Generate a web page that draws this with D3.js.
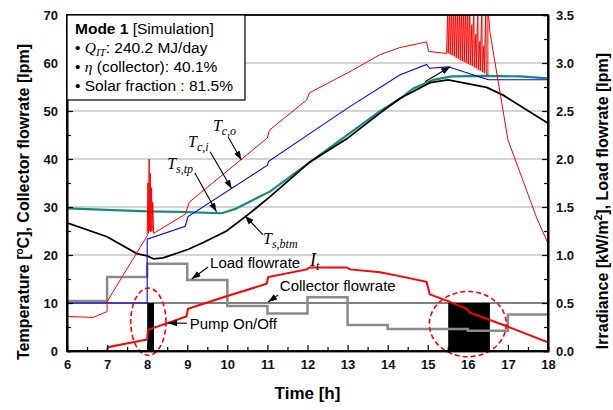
<!DOCTYPE html>
<html>
<head>
<meta charset="utf-8">
<script src="https://cdn.jsdelivr.net/npm/d3@7"></script>
<style>
  body { margin: 0; background: #fff; }
  svg { font-family: "Liberation Sans", Arial, sans-serif; }
  .tick text { font-weight: bold; font-size: 13px; }
  .serif { font-family: "Liberation Serif", "Times New Roman", serif; font-style: italic; }
</style>
</head>
<body>
<script>
//tick values
var hourTicks = [6, 7, 8, 9, 10, 11, 12, 13, 14, 15, 16, 17, 18],
    tempTicks = [0, 10, 20, 30, 40, 50, 60, 70],
    rightTicks = [0, 0.5, 1.0, 1.5, 2.0, 2.5, 3.0, 3.5],
    gridTemps = [20, 30, 40, 50, 60];

//collector outlet temperature T_c,o [hour, degC]
var tcoData = [[6.0,7.2],[6.65,7.0],[7.0,8.2],[7.0,10.3],[8.0,24.0],
  [8.02,35],[8.03,24.5],[8.05,40],[8.06,25],[8.08,37],[8.09,24.8],[8.11,34],[8.12,25],[8.14,31],[8.16,24.5],
  [8.95,28.5],[9.05,31.0],[11.0,44.4],[11.05,46.0],[11.98,52.3],[12.05,53.8],[13.06,58.2],[13.8,61.7],
  [14.3,63.2],[14.97,64.4],[15.02,62.4],[15.47,62.0],
  [15.50,72],[15.51,62.0],[15.55,72],[15.56,61.8],[15.60,72],[15.61,61.6],[15.65,72],[15.66,61.4],
  [15.70,72],[15.71,61.1],[15.75,72],[15.76,60.9],[15.80,72],[15.81,60.6],[15.85,72],[15.86,60.4],
  [15.90,72],[15.91,60.2],[15.95,72],[15.96,60.0],[16.00,72],[16.01,59.8],[16.05,72],[16.06,59.6],
  [16.10,68],[16.11,59.4],[16.15,72],[16.16,59.1],[16.20,66],[16.21,58.9],[16.25,72],[16.26,58.6],
  [16.30,64.5],[16.31,58.4],[16.35,72],[16.36,58.1],[16.40,63.5],[16.41,57.9],[16.45,72],[16.46,57.6],
  [16.5,57.5],[16.5,72],[16.55,66.5],[17.0,44.0],[17.72,27.7],[18.0,22.4]];

//collector inlet temperature T_c,i
var tciData = [[6,10],[8.0,10],[8.0,23.3],[8.95,26.0],[9.02,28.0],[11.0,38.7],[11.03,39.5],
  [12.98,50.5],[14.3,57.5],[14.97,59.7],[15.05,58.9],[15.51,59.2],[16.51,56.5],[18,56.5]];

//storage top temperature T_s,tp
var tstpData = [[6,29.7],[8,29.1],[8.82,29.0],[9.86,28.7],[10.2,29.6],[10.48,30.8],[11.06,33.2],
  [12.14,39.8],[13.39,47.4],[13.8,49.9],[14.3,52.5],[14.64,54.7],[15.14,56.5],[15.6,57.2],
  [16.5,57.3],[17.3,57.2],[18,56.8]];

//storage bottom temperature T_s,btm
var tsbtmData = [[6,26.7],[7.0,23.8],[7.74,20.3],[8.0,19.8],[8.16,19.2],[8.4,19.4],[9.03,21.2],
  [9.4,22.6],[9.98,25.0],[10.5,28.3],[11.06,32.1],[12.06,39.4],[12.98,44.2],[13.8,49.5],
  [14.3,52.6],[15.06,55.9],[15.51,56.5],[16.47,54.9],[16.88,53.3],[17.97,47.6],[18,47.5]];

//irradiance I_t [kW/m2]
var irradData = [[6,0],[7.0,0],[7.02,0.04],[8.0,0.12],[8.02,0.22],[8.98,0.36],[9.02,0.44],
  [9.98,0.57],[10.98,0.70],[11.02,0.77],[11.98,0.85],[12.05,0.87],[12.98,0.87],[13.06,0.85],
  [13.81,0.82],[14.3,0.78],[14.97,0.72],[15.05,0.59],[15.51,0.52],[15.97,0.44],[16.05,0.40],
  [16.96,0.26],[18,0.09]];

//load flowrate steps [lpm]
var loadHours = [6, 7, 8, 9, 10, 11, 12, 13, 14, 16, 17, 18],
    loadValues = [0.52, 0.77, 0.91, 0.74, 0.47, 0.39, 0.56, 0.27, 0.23, 0.21, 0.38, 0.38];

//collector flowrate [lpm] and pump on/off intervals
var collectorFlow = [[6,10],[18,10]],
    pumpOnOff = [[8.0, 8.17], [15.51, 16.55]],
    pumpLevel = 10;

//dashed circles around pump events [hour, degC, radius h, radius degC]
var pumpCircles = [[8.03, 6.1, 0.44, 7.0], [16.0, 5.6, 0.96, 6.8]];

//arrows [from hour, from degC, to hour, to degC]
var arrows = [[10.02,44.6,10.35,39.8],[9.57,41.5,10.11,33.8],[9.19,37.1,9.73,29.0],
  [10.89,24.2,10.44,28.2],[9.52,17.5,9.11,15.0],[11.27,11.7,11.02,10.2],
  [8.99,5.8,8.52,5.8],[14.93,56.1,15.56,59.2]];

//curve labels [hour, degC, main, subscript]
var curveLabels = [[9.64,45.8,"T","c,o"],[9.02,42.5,"T","c,i"],[8.5,37.9,"T","s,tp"],
  [10.89,22.3,"T","s,btm"],[12.06,17.7,"I","t"]];
var textLabels = [[9.57,17.3,"Load flowrate"],[11.31,12.5,"Collector flowrate"],[9.06,4.6,"Pump On/Off"]];

var width = 613, height = 410,
    padL = 67, padR = 548, padT = 15, padB = 351;

var svg = d3.select("body").append("svg")
    .attr("width", width)
    .attr("height", height);

var x = d3.scaleLinear().domain([6, 18]).range([padL, padR]);
var yL = d3.scaleLinear().domain([0, 70]).range([padB, padT]);
var yR = d3.scaleLinear().domain([0, 3.5]).range([padB, padT]);

var defs = svg.append("defs");
defs.append("clipPath").attr("id", "plot")
  .append("rect").attr("x", padL).attr("y", padT)
  .attr("width", padR - padL).attr("height", padB - padT);

defs.append("marker").attr("id", "arr")
    .attr("viewBox", "0 -4 9 8").attr("refX", 9).attr("refY", 0)
    .attr("markerUnits", "userSpaceOnUse")
    .attr("markerWidth", 9).attr("markerHeight", 8)
    .attr("orient", "auto")
  .append("path").attr("d", "M0,-3.2L9,0L0,3.2Z").attr("fill", "#000");

//grid lines
svg.selectAll(".grid").data(gridTemps).enter().append("line")
    .attr("x1", padL).attr("x2", padR)
    .attr("y1", function(d){ return yL(d); })
    .attr("y2", function(d){ return yL(d); })
    .attr("stroke", "#c4c4c4").attr("stroke-width", 1.5);

var plot = svg.append("g").attr("clip-path", "url(#plot)");

//pump on/off bars
plot.selectAll(".pump").data(pumpOnOff).enter().append("rect")
    .attr("x", function(d){ return x(d[0]); })
    .attr("width", function(d){ return x(d[1]) - x(d[0]); })
    .attr("y", yL(pumpLevel))
    .attr("height", yL(0) - yL(pumpLevel))
    .attr("fill", "#000");

var lineL = d3.line().x(function(d){ return x(d[0]); }).y(function(d){ return yL(d[1]); });
var lineR = d3.line().x(function(d){ return x(d[0]); }).y(function(d){ return yR(d[1]); });
var stepR = d3.line().x(function(d){ return x(d[0]); }).y(function(d){ return yR(d[1]); }).curve(d3.curveStepAfter);

//collector flowrate
plot.append("path").datum(collectorFlow).attr("d", lineL)
    .attr("fill", "none").attr("stroke", "#000").attr("stroke-width", 1.2);

//load flowrate
var loadPts = loadHours.map(function(h, i){ return [h, loadValues[i]]; });
plot.append("path").datum(loadPts).attr("d", stepR)
    .attr("fill", "none").attr("stroke", "#8a8a8a").attr("stroke-width", 2.5);

//irradiance
plot.append("path").datum(irradData).attr("d", lineR)
    .attr("fill", "none").attr("stroke", "#ff0000").attr("stroke-width", 2);

//storage top
plot.append("path").datum(tstpData).attr("d", lineL)
    .attr("fill", "none").attr("stroke", "#168a80").attr("stroke-width", 2.2);

//storage bottom
plot.append("path").datum(tsbtmData).attr("d", lineL)
    .attr("fill", "none").attr("stroke", "#000").attr("stroke-width", 1.8);

//collector inlet
plot.append("path").datum(tciData).attr("d", lineL)
    .attr("fill", "none").attr("stroke", "#0000ff").attr("stroke-width", 1.1);

//collector outlet
plot.append("path").datum(tcoData).attr("d", lineL)
    .attr("fill", "none").attr("stroke", "#ff0000").attr("stroke-width", 1);

//dashed circles
svg.selectAll(".circ").data(pumpCircles).enter().append("ellipse")
    .attr("cx", function(d){ return x(d[0]); })
    .attr("cy", function(d){ return yL(d[1]); })
    .attr("rx", function(d){ return x(d[0] + d[2]) - x(d[0]); })
    .attr("ry", function(d){ return yL(0) - yL(d[3]); })
    .attr("fill", "none").attr("stroke", "#ff0000")
    .attr("stroke-width", 1.6).attr("stroke-dasharray", "5,3");

//axes with inward ticks
function minorVals(a, b, step){ var v = []; for (var t = a; t <= b + 1e-9; t += step) v.push(+t.toFixed(3)); return v; }

svg.append("g").attr("transform", "translate(" + padL + ",0)")
    .call(d3.axisLeft(yL).tickValues(tempTicks).tickSizeInner(-6).tickSizeOuter(0).tickPadding(9).tickFormat(d3.format("d")));
svg.append("g").attr("transform", "translate(" + padL + ",0)")
    .call(d3.axisLeft(yL).tickValues(minorVals(5, 65, 10)).tickSize(-4).tickFormat(""));

svg.append("g").attr("transform", "translate(" + padR + ",0)")
    .call(d3.axisRight(yR).tickValues(rightTicks).tickSizeInner(-6).tickSizeOuter(0).tickPadding(8).tickFormat(d3.format(".1f")));
svg.append("g").attr("transform", "translate(" + padR + ",0)")
    .call(d3.axisRight(yR).tickValues(minorVals(0.25, 3.25, 0.5)).tickSize(-4).tickFormat(""));

svg.append("g").attr("transform", "translate(0," + padB + ")")
    .call(d3.axisBottom(x).tickValues(hourTicks).tickSizeInner(-6).tickSizeOuter(0).tickPadding(9).tickFormat(d3.format("d")));
svg.append("g").attr("transform", "translate(0," + padB + ")")
    .call(d3.axisBottom(x).tickValues(minorVals(6.5, 17.5, 1)).tickSize(-4).tickFormat(""));

svg.selectAll(".domain").attr("stroke-width", 1.6);
svg.selectAll(".tick line").attr("stroke-width", 1.2);
svg.selectAll(".tick text").attr("fill", "#111");

//frame
svg.append("rect").attr("x", padL).attr("y", padT)
    .attr("width", padR - padL).attr("height", padB - padT)
    .attr("fill", "none").attr("stroke", "#000").attr("stroke-width", 1.8);

//axis titles
svg.append("text").attr("x", x(12)).attr("y", 399)
    .attr("text-anchor", "middle").attr("font-weight", "bold").attr("font-size", 17)
    .text("Time [h]");

var lt = svg.append("text").attr("transform", "translate(29,202) rotate(-90)")
    .attr("text-anchor", "middle").attr("font-weight", "bold").attr("font-size", 16);
lt.append("tspan").text("Temperature [");
lt.append("tspan").attr("font-size", 10).attr("dy", -6).text("o");
lt.append("tspan").attr("dy", 6).text("C], Collector flowrate [lpm]");

var rt = svg.append("text").attr("transform", "translate(608,201) rotate(-90)")
    .attr("text-anchor", "middle").attr("font-weight", "bold").attr("font-size", 16);
rt.append("tspan").text("Irradiance [kW/m");
rt.append("tspan").attr("font-size", 10).attr("dy", -6).text("2");
rt.append("tspan").attr("dy", 6).text("], Load flowrate [lpm]");

//info box
svg.append("rect").attr("x", padL).attr("y", padT).attr("width", 178).attr("height", 85)
    .attr("fill", "#fff").attr("stroke", "#000").attr("stroke-width", 1.2);
var fs = 15.5;
var l1 = svg.append("text").attr("x", 75).attr("y", 34).attr("font-size", fs);
l1.append("tspan").attr("font-weight", "bold").text("Mode 1");
l1.append("tspan").text(" [Simulation]");
var l2 = svg.append("text").attr("x", 75).attr("y", 53).attr("font-size", fs);
l2.append("tspan").text("\u2022 ");
l2.append("tspan").attr("class", "serif").text("Q");
l2.append("tspan").attr("class", "serif").attr("font-size", 11).attr("dy", 3).text("IT");
l2.append("tspan").attr("dy", -3).text(": 240.2 MJ/day");
var l3 = svg.append("text").attr("x", 75).attr("y", 72).attr("font-size", fs);
l3.append("tspan").text("\u2022 ");
l3.append("tspan").attr("class", "serif").text("\u03b7");
l3.append("tspan").text(" (collector): 40.1%");
svg.append("text").attr("x", 75).attr("y", 91).attr("font-size", fs)
    .text("\u2022 Solar fraction : 81.5%");

//arrows
svg.selectAll(".arrow").data(arrows).enter().append("line")
    .attr("x1", function(d){ return x(d[0]); })
    .attr("y1", function(d){ return yL(d[1]); })
    .attr("x2", function(d){ return x(d[2]); })
    .attr("y2", function(d){ return yL(d[3]); })
    .attr("stroke", "#000").attr("stroke-width", 1.1)
    .attr("marker-end", "url(#arr)");

//curve labels
curveLabels.forEach(function(d){
  var t = svg.append("text").attr("class", "serif")
      .attr("x", x(d[0])).attr("y", yL(d[1])).attr("font-size", d[2] == "I" ? 18 : 16);
  t.append("tspan").text(d[2]);
  t.append("tspan").attr("font-size", 12).attr("dy", 4).text(d[3]);
});

svg.selectAll(".lbl").data(textLabels).enter().append("text")
    .attr("x", function(d){ return x(d[0]); })
    .attr("y", function(d){ return yL(d[1]); })
    .attr("font-size", 15)
    .text(function(d){ return d[2]; });
</script>
</body>
</html>
